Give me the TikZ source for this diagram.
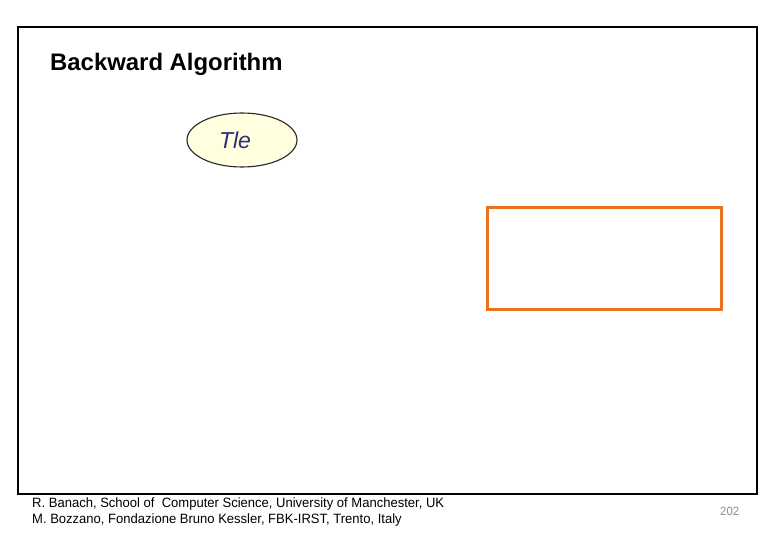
\documentclass[tikz,border=0pt]{standalone}
\usepackage{fontspec}
\setmainfont{Liberation Sans}
\usetikzlibrary{shapes.geometric}
\definecolor{frameorange}{HTML}{E8731F}
\definecolor{ellfill}{HTML}{FFFFE0}
\definecolor{tlecol}{HTML}{2E2E78}
\definecolor{pagegray}{HTML}{8C8C8C}
\tikzset{
  frame/.style={draw=black, line width=2pt},
  titletext/.style={anchor=base west, font=\fontsize{23.9}{28}\selectfont\bfseries, inner sep=0pt},
  stateell/.style={ellipse, draw=black!85, line width=1.1pt, fill=ellfill, minimum width=110pt, minimum height=54pt, inner sep=0pt},
  hibox/.style={draw=frameorange, line width=3pt},
  foot/.style={anchor=base west, font=\fontsize{13.5}{16}\selectfont, inner sep=0pt},
}
\begin{document}
\begin{tikzpicture}[x=1pt, y=-1pt]
\useasboundingbox (0,0) rectangle (780,540);
\fill[white] (0,0) rectangle (780,540);
\draw[frame] (18,27) rectangle (757,494);
\node[titletext] (title) at (50,71) {Backward Algorithm};
\node[stateell] (tle) at (242,140) {\textcolor{tlecol}{\fontsize{23}{26}\selectfont\itshape Tle}\hspace*{14pt}};
\draw[hibox] (487,208) rectangle (721,310);
\node[foot] (f1) at (32,507) {\scalebox{0.965}[1]{R. Banach, School of\ \ Computer Science, University of Manchester, UK}};
\node[foot] (f2) at (32,523) {\scalebox{0.965}[1]{M. Bozzano, Fondazione Bruno Kessler, FBK-IRST, Trento, Italy}};
\node[anchor=base west, inner sep=0pt, text=pagegray, font=\fontsize{12}{14}\selectfont] (pg) at (720,515) {\scalebox{0.95}[1]{202}};
\end{tikzpicture}
\end{document}
